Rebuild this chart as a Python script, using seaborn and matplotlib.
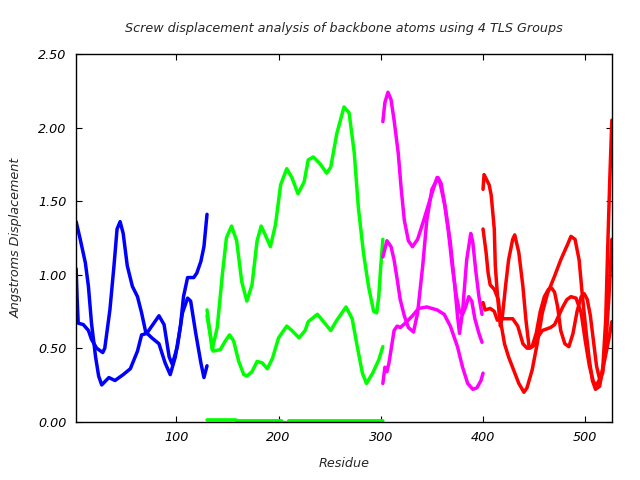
import matplotlib
matplotlib.use("Agg")
import matplotlib.pyplot as plt
import pandas as pd
import seaborn as sns

# TLS group 1 (blue)
blue_a_res = [2, 6, 11, 14, 17, 21, 24, 27, 34, 40, 48, 55, 62, 66, 71, 76, 83, 88, 93, 96, 101, 106, 111, 114, 119, 124, 127, 130]
blue_a_val = [1.36, 1.24, 1.08, 0.92, 0.67, 0.44, 0.31, 0.25, 0.30, 0.28, 0.32, 0.36, 0.48, 0.59, 0.60, 0.65, 0.72, 0.66, 0.44, 0.39, 0.51, 0.74, 0.84, 0.82, 0.60, 0.40, 0.30, 0.38]
blue_b_res = [2, 3, 4, 9, 14, 17, 22, 28, 30, 35, 39, 42, 45, 48, 52, 57, 62, 66, 70, 76, 83, 89, 94, 99, 104, 107, 111, 117, 120, 124, 127, 130]
blue_b_val = [1.04, 0.83, 0.67, 0.66, 0.62, 0.56, 0.50, 0.47, 0.50, 0.76, 1.06, 1.31, 1.36, 1.28, 1.06, 0.92, 0.85, 0.74, 0.61, 0.57, 0.53, 0.40, 0.32, 0.44, 0.65, 0.85, 0.98, 0.98, 1.01, 1.09, 1.19, 1.41]

# TLS group 2 (green)
green_a_res = [130, 135, 140, 145, 149, 154, 159, 164, 169, 174, 179, 183, 187, 192, 197, 202, 208, 213, 219, 225, 229, 234, 241, 247, 251, 257, 264, 269, 274, 278, 283, 288, 293, 296, 298, 300, 302]
green_a_val = [0.76, 0.49, 0.64, 1.00, 1.25, 1.33, 1.23, 0.95, 0.82, 0.93, 1.23, 1.33, 1.27, 1.19, 1.34, 1.61, 1.72, 1.66, 1.55, 1.63, 1.78, 1.80, 1.75, 1.69, 1.73, 1.96, 2.14, 2.10, 1.83, 1.46, 1.15, 0.92, 0.75, 0.74, 0.85, 1.06, 1.24]
green_b_res = [130, 133, 136, 143, 148, 152, 156, 161, 166, 169, 174, 179, 184, 189, 194, 200, 208, 213, 220, 226, 229, 238, 244, 251, 257, 266, 272, 277, 282, 286, 292, 298, 302]
green_b_val = [0.72, 0.60, 0.48, 0.49, 0.55, 0.59, 0.55, 0.41, 0.32, 0.31, 0.34, 0.41, 0.40, 0.36, 0.43, 0.57, 0.65, 0.62, 0.57, 0.62, 0.68, 0.73, 0.68, 0.62, 0.69, 0.78, 0.70, 0.51, 0.33, 0.26, 0.33, 0.42, 0.51]
green_c_res = [130, 158, 160, 203, 204, 209, 210, 302]
green_c_val = [0.012, 0.012, 0.006, 0.006, -0.006, -0.006, 0.006, 0.006]

# TLS group 3 (magenta)
mag_a_res = [302, 304, 307, 310, 313, 317, 320, 323, 327, 331, 336, 342, 349, 355, 358, 363, 368, 372, 375, 377, 380, 384, 388, 390, 393, 396, 399]
mag_a_val = [2.04, 2.17, 2.24, 2.19, 2.05, 1.83, 1.58, 1.37, 1.23, 1.19, 1.24, 1.37, 1.53, 1.66, 1.62, 1.46, 1.22, 0.95, 0.72, 0.60, 0.75, 1.10, 1.28, 1.22, 1.02, 0.85, 0.73]
mag_b_res = [302, 306, 310, 313, 316, 319, 323, 327, 332, 336, 341, 345, 350, 356, 359, 362, 366, 370, 374, 377, 380, 383, 386, 389, 392, 396, 399]
mag_b_val = [1.12, 1.23, 1.19, 1.10, 0.97, 0.83, 0.72, 0.64, 0.61, 0.74, 1.06, 1.37, 1.58, 1.66, 1.62, 1.50, 1.30, 1.05, 0.85, 0.75, 0.73, 0.78, 0.85, 0.82, 0.70, 0.60, 0.54]
mag_c_res = [302, 304, 306, 308, 313, 316, 319, 324, 331, 337, 345, 355, 362, 368, 375, 380, 385, 390, 394, 398, 400]
mag_c_val = [0.26, 0.37, 0.34, 0.40, 0.62, 0.65, 0.64, 0.67, 0.72, 0.77, 0.78, 0.76, 0.73, 0.65, 0.51, 0.37, 0.26, 0.22, 0.23, 0.28, 0.33]

# TLS group 4 (red)
red_a_res = [400, 403, 405, 407, 411, 415, 417, 421, 425, 430, 435, 440, 443, 448, 453, 458, 463, 470, 476, 483, 486, 490, 494, 497, 501, 504, 507, 510, 514, 517, 520, 522, 524, 526]
red_a_val = [1.31, 1.15, 1.01, 0.93, 0.90, 0.83, 0.69, 0.53, 0.44, 0.35, 0.26, 0.20, 0.23, 0.35, 0.53, 0.74, 0.87, 0.99, 1.10, 1.21, 1.26, 1.24, 1.10, 0.87, 0.60, 0.42, 0.28, 0.22, 0.24, 0.35, 0.69, 1.19, 1.65, 2.05]
red_b_res = [400, 401, 406, 408, 411, 412, 414, 416, 417, 419, 422, 425, 429, 431, 435, 439, 442, 445, 448, 452, 456, 460, 464, 467, 470, 473, 476, 480, 484, 488, 492, 496, 499, 502, 505, 508, 511, 514, 517, 520, 523, 526]
red_b_val = [1.58, 1.68, 1.61, 1.54, 1.31, 1.06, 0.87, 0.72, 0.65, 0.72, 0.92, 1.10, 1.24, 1.27, 1.15, 0.92, 0.69, 0.51, 0.51, 0.60, 0.75, 0.85, 0.90, 0.91, 0.88, 0.78, 0.62, 0.53, 0.51, 0.60, 0.75, 0.85, 0.87, 0.83, 0.72, 0.55, 0.38, 0.29, 0.33, 0.51, 0.83, 1.24]
red_c_res = [400, 402, 407, 411, 414, 418, 422, 429, 434, 439, 443, 446, 450, 454, 458, 462, 466, 470, 474, 478, 482, 486, 491, 496, 500, 504, 508, 511, 515, 519, 523, 526]
red_c_val = [0.81, 0.76, 0.77, 0.75, 0.69, 0.70, 0.70, 0.70, 0.65, 0.53, 0.50, 0.50, 0.52, 0.58, 0.62, 0.63, 0.64, 0.66, 0.72, 0.78, 0.83, 0.85, 0.84, 0.74, 0.55, 0.38, 0.27, 0.25, 0.30, 0.42, 0.56, 0.68]

x_ticks = [100, 200, 300, 400, 500]
y_ticks = [0.0, 0.5, 1.0, 1.5, 2.0, 2.5]

curves = [
    ("g1", "blue_a", blue_a_res, blue_a_val),
    ("g1", "blue_b", blue_b_res, blue_b_val),
    ("g2", "green_a", green_a_res, green_a_val),
    ("g2", "green_b", green_b_res, green_b_val),
    ("g2", "green_c", green_c_res, green_c_val),
    ("g3", "mag_a", mag_a_res, mag_a_val),
    ("g3", "mag_b", mag_b_res, mag_b_val),
    ("g3", "mag_c", mag_c_res, mag_c_val),
    ("g4", "red_a", red_a_res, red_a_val),
    ("g4", "red_b", red_b_res, red_b_val),
    ("g4", "red_c", red_c_res, red_c_val),
]
rows = []
for grp, name, res, val in curves:
    for r, v in zip(res, val):
        rows.append({"group": grp, "curve": name, "residue": r, "disp": v})
df = pd.DataFrame(rows)

sns.set_theme(style="ticks")
plt.rcParams["font.family"] = ["DejaVu Sans"]
FS = 9.2

fig = plt.figure(figsize=(6.4, 4.8), dpi=100)
ax = fig.add_axes([0.119, 0.1215, 0.837, 0.766])

palette = {"g1": "#0000ff", "g2": "#00ff00", "g3": "#ff00ff", "g4": "#ff0000"}
sns.lineplot(data=df, x="residue", y="disp", hue="group", units="curve",
             estimator=None, sort=False, palette=palette, linewidth=2.5,
             legend=False, ax=ax)

ax.set_xlim(2, 526)
ax.set_ylim(0, 2.5)
ax.set_xticks(x_ticks)
ax.set_xticklabels([str(t) for t in x_ticks], fontstyle="italic", fontsize=FS)
ax.set_yticks(y_ticks)
ax.set_yticklabels([f"{t:.2f}" for t in y_ticks], fontstyle="italic", fontsize=FS)
ax.tick_params(direction="in", length=4, width=0.8, top=True, right=True,
               colors="black", pad=7)
for s in ax.spines.values():
    s.set_linewidth(1.0)
    s.set_color("black")

ax.set_xlabel("Residue", fontstyle="italic", fontsize=FS, labelpad=9)
ax.set_ylabel("Angstroms Displacement", fontstyle="italic", fontsize=FS, labelpad=11)
ax.set_title("Screw displacement analysis of backbone atoms using 4 TLS Groups",
             fontstyle="italic", fontsize=FS, pad=16)

fig.savefig("out.png", dpi=100)
